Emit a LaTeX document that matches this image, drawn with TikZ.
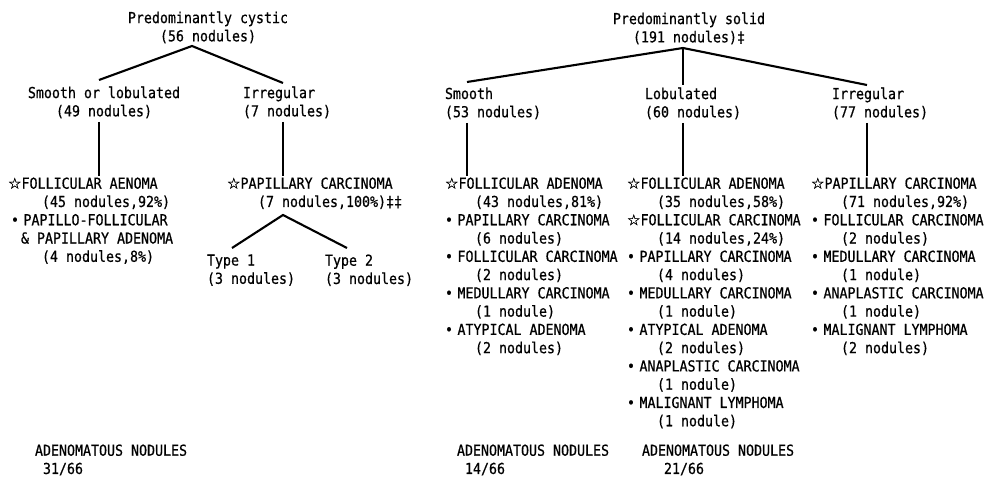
\documentclass[tikz,border=0pt]{standalone}
\usepackage{fontspec}
\usepackage{tikz}
\usetikzlibrary{calc}
\setmonofont{DejaVu Sans Mono}[FakeStretch=0.88,FakeBold=0.6]
\newfontfamily\starfont{DejaVu Sans}[FakeBold=0.6]
\newcommand{\wstar}{{\starfont ☆}}
\newcommand{\bul}{•\hspace{0.09cm}}
\newcommand{\pind}{\hspace*{0.6cm}}
\tikzset{
    % Base text style
    basetext/.style={
        inner sep=0pt,
        outer sep=0pt,
        font={\ttfamily\fontsize{8.6}{10.4}\selectfont}
    },
    % Tree titles
    titlenode/.style={
        basetext,
        anchor=north,
        align=center
    },
    % Headers and finding lists
    listnode/.style={
        basetext,
        anchor=north west,
        align=left
    },
    % Branch line
    branch/.style={
        line width=1.2pt,
        draw=black
    },
    % Vertical stem
    stem/.style={
        branch,
        shorten <=2pt,
        shorten >=1pt
    }
}

\begin{document}
\begin{tikzpicture}[x=0.02cm, y=-0.02cm]
        \fill[white] (0,0) rectangle (995,493);
        \useasboundingbox (0,0) rectangle (995,493);

        % Tree 1: Predominantly cystic
        \node[titlenode] (cys) at (208,11.5) {Predominantly cystic\\(56 nodules)};
        \node[titlenode] (csm) at (104,86.5) {Smooth or lobulated\\(49 nodules)};
        \node[listnode] (cirr) at (243,86.5) {Irregular\\(7 nodules)};
        \node[listnode] (cfol) at (8,177.5) {\wstar FOLLICULAR AENOMA\\
            \hspace*{0.68cm}(45 nodules,92\%)\\
            \hspace*{0.06cm}\bul PAPILLO-FOLLICULAR\\
            \hspace*{0.26cm}\& PAPILLARY ADENOMA\\
            \hspace*{0.68cm}(4 nodules,8\%)};
        \node[listnode] (cpap) at (227,177.5) {\wstar PAPILLARY CARCINOMA\\
            \hspace*{0.62cm}(7 nodules,100\%)‡‡};
        \node[listnode] (ty1) at (207,254.5) {Type 1\\(3 nodules)};
        \node[listnode] (ty2) at (325,254.5) {Type 2\\(3 nodules)};
        \node[listnode] (adc) at (35,444.5) {ADENOMATOUS NODULES\\\hspace*{0.16cm}31/66};
        \coordinate (cysA) at (192,46);
        \coordinate (csmT) at (99,80);
        \coordinate (cirT) at (283,83);
        \coordinate (papA) at (283,215);
        \coordinate (ty1T) at (232,248);
        \coordinate (ty2T) at (347,248);
        \draw[branch] (csmT) -- (cysA) -- (cirT);
        \draw[stem] (csm.south -| csmT) -- (cfol.north -| csmT);
        \draw[stem] (cirr.south -| cirT) -- (cpap.north -| cirT);
        \draw[branch] (ty1T) -- (papA) -- (ty2T);

        % Tree 2: Predominantly solid
        \node[titlenode] (sol) at (689,12.5) {Predominantly solid\\(191 nodules)‡};
        \node[listnode] (smo) at (445,87.5) {Smooth\\(53 nodules)};
        \node[listnode] (lob) at (645,87.5) {Lobulated\\(60 nodules)};
        \node[listnode] (irr) at (832,87.5) {Irregular\\(77 nodules)};
        \node[listnode] (smoF) at (445,177.5) {\wstar FOLLICULAR ADENOMA\\
            \pind(43 nodules,81\%)\\
            \bul PAPILLARY CARCINOMA\\
            \pind(6 nodules)\\
            \bul FOLLICULAR CARCINOMA\\
            \pind(2 nodules)\\
            \bul MEDULLARY CARCINOMA\\
            \pind(1 nodule)\\
            \bul ATYPICAL ADENOMA\\
            \pind(2 nodules)};
        \node[listnode] (lobF) at (627,177.5) {\wstar FOLLICULAR ADENOMA\\
            \pind(35 nodules,58\%)\\
            \wstar FOLLICULAR CARCINOMA\\
            \pind(14 nodules,24\%)\\
            \bul PAPILLARY CARCINOMA\\
            \pind(4 nodules)\\
            \bul MEDULLARY CARCINOMA\\
            \pind(1 nodule)\\
            \bul ATYPICAL ADENOMA\\
            \pind(2 nodules)\\
            \bul ANAPLASTIC CARCINOMA\\
            \pind(1 nodule)\\
            \bul MALIGNANT LYMPHOMA\\
            \pind(1 nodule)};
        \node[listnode] (irrF) at (811,177.5) {\wstar PAPILLARY CARCINOMA\\
            \pind(71 nodules,92\%)\\
            \bul FOLLICULAR CARCINOMA\\
            \pind(2 nodules)\\
            \bul MEDULLARY CARCINOMA\\
            \pind(1 nodule)\\
            \bul ANAPLASTIC CARCINOMA\\
            \pind(1 nodule)\\
            \bul MALIGNANT LYMPHOMA\\
            \pind(2 nodules)};
        \node[listnode] (ads) at (457,444.5) {ADENOMATOUS NODULES\\\hspace*{0.16cm}14/66};
        \node[listnode] (adl) at (642,444.5) {ADENOMATOUS NODULES\\\hspace*{0.44cm}21/66};
        \coordinate (solA) at (683,48);
        \coordinate (smoT) at (467,82);
        \coordinate (lobT) at (683,85);
        \coordinate (irrT) at (867,85);
        \draw[branch] (smoT) -- (solA) -- (irrT);
        \draw[branch] (solA) -- (lobT);
        \draw[stem] (smo.south -| smoT) -- (smoF.north -| smoT);
        \draw[stem] (lob.south -| lobT) -- (lobF.north -| lobT);
        \draw[stem] (irr.south -| irrT) -- (irrF.north -| irrT);
\end{tikzpicture}
\end{document}
